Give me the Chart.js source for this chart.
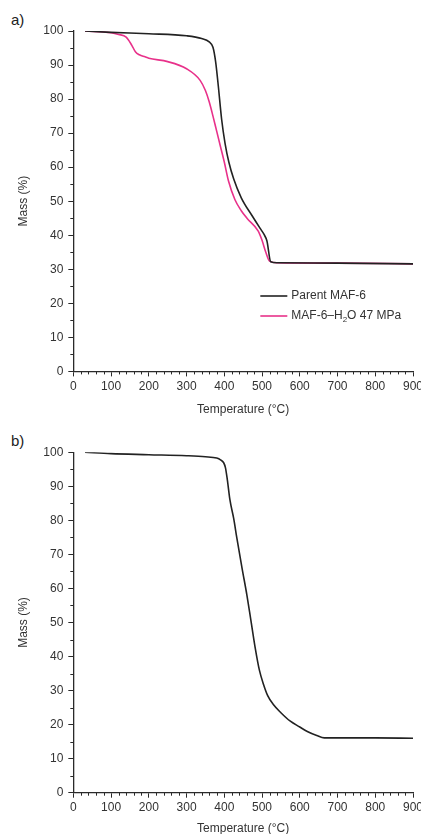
<!DOCTYPE html>
<html>
<head>
<meta charset="utf-8">
<script src="https://cdn.jsdelivr.net/npm/chart.js@4.4.1/dist/chart.umd.min.js"></script>
<style>
  html, body { margin: 0; padding: 0; background: #fff; }
  #page { position: relative; width: 421px; height: 834px; overflow: hidden; background: #fff; }
  canvas { position: absolute; left: 0; }
  .panel { position: absolute; left: 11px; font: 15px "Liberation Sans", Arial, sans-serif; color: #222; line-height: 15px; }
</style>
</head>
<body>
<div id="page">
  <div class="panel" style="top:12px">a)</div>
  <canvas id="chartA" width="440" height="417" style="top:0"></canvas>
  <div class="panel" style="top:433px">b)</div>
  <canvas id="chartB" width="440" height="425" style="top:417px"></canvas>
</div>
<script>
// panel a) - temperature (°C) and mass (%)
const parentTemp = [31, 100, 200, 300, 340, 360, 370, 377, 384, 393, 402, 412, 425, 445, 475, 495, 505, 513, 523, 540, 700, 900];
const parentMass = [100, 99.6, 99.2, 98.6, 97.8, 96.8, 95.2, 91, 84, 74, 67, 61.5, 56.5, 51, 45.5, 42, 40.3, 38.3, 32.2, 31.9, 31.8, 31.6];

const waterTemp = [31, 100, 120, 140, 155, 165, 175, 190, 200, 250, 300, 336, 350, 360, 370, 380, 390, 400, 411, 428, 445, 460, 490, 500, 510, 520, 540, 700, 900];
const waterMass = [100, 99.5, 99.0, 98.2, 95.8, 93.8, 93.0, 92.4, 92.0, 91.0, 88.9, 85.5, 82.5, 79.2, 75, 70.5, 66, 61.5, 56, 50.5, 47.2, 45, 41.2, 38.5, 35, 32.4, 31.9, 31.8, 31.6];

// panel b)
const sampleTemp = [31, 100, 200, 300, 350, 380, 390, 398, 403, 408, 415, 425, 433, 447, 460, 470, 482, 493, 504, 515, 530, 550, 575, 600, 620, 645, 665, 700, 800, 900];
const sampleMass = [100, 99.6, 99.3, 99.0, 98.7, 98.3, 97.8, 97, 95.5, 92, 86, 80.5, 75, 66, 58, 51, 42.5, 36, 31.8, 28.5, 25.9, 23.5, 21, 19.3, 18, 16.8, 16.1, 16.1, 16.1, 16.0];

const xTicks = [0, 100, 200, 300, 400, 500, 600, 700, 800, 900];
const yTicks = [0, 10, 20, 30, 40, 50, 60, 70, 80, 90, 100];

const seriesLabels = ['Parent MAF-6', 'MAF-6\u2013H\u2082O 47 MPa'];
const black = '#222222';
const magenta = '#e8318a';
const axisColor = '#2a2a2a';

Chart.defaults.font.family = '"Liberation Sans", Arial, sans-serif';
Chart.defaults.font.size = 12;
Chart.defaults.color = '#333';

function toPoints(xs, ys) {
    return xs.map((x, i) => ({x: x, y: ys[i]}));
}

function lineSet(label, xs, ys, color) {
    return {
        label: label,
        data: toPoints(xs, ys),
        borderColor: color,
        borderWidth: 1.6,
        pointRadius: 0,
        cubicInterpolationMode: 'monotone',
        fill: false
    };
}

// short minor ticks between the labelled ones
const minorTicks = {
    id: 'minorTicks',
    afterDraw(chart) {
        const {ctx, chartArea, scales} = chart;
        ctx.save();
        ctx.strokeStyle = axisColor;
        ctx.lineWidth = 1;
        ctx.beginPath();
        for (let v = 20; v < 900; v += 20) {
            if (v % 100 === 0) continue;
            const px = Math.round(scales.x.getPixelForValue(v)) + 0.5;
            ctx.moveTo(px, chartArea.bottom);
            ctx.lineTo(px, chartArea.bottom + 3);
        }
        for (let v = 5; v < 100; v += 10) {
            const py = Math.round(scales.y.getPixelForValue(v)) + 0.5;
            ctx.moveTo(chartArea.left, py);
            ctx.lineTo(chartArea.left - 3, py);
        }
        ctx.stroke();
        ctx.restore();
    }
};

// legend drawn inside the plot area (chart a only)
const insideLegend = {
    id: 'insideLegend',
    afterDatasetsDraw(chart, args, opts) {
        if (!opts.show) return;
        const {ctx, chartArea} = chart;
        const x0 = chartArea.left + opts.left;
        ctx.save();
        ctx.textBaseline = 'middle';
        chart.data.datasets.forEach((ds, i) => {
            const y = chartArea.top + opts.top + i * opts.gap;
            ctx.strokeStyle = ds.borderColor;
            ctx.lineWidth = 1.6;
            ctx.beginPath();
            ctx.moveTo(x0, y);
            ctx.lineTo(x0 + 27, y);
            ctx.stroke();
            ctx.fillStyle = '#333';
            let tx = x0 + 31;
            const parts = ds.label.split('\u2082');
            ctx.font = '12px "Liberation Sans", Arial, sans-serif';
            ctx.fillText(parts[0], tx, y);
            if (parts.length > 1) {
                tx += ctx.measureText(parts[0]).width;
                ctx.font = '8px "Liberation Sans", Arial, sans-serif';
                ctx.fillText('2', tx, y + 4);
                tx += ctx.measureText('2').width;
                ctx.font = '12px "Liberation Sans", Arial, sans-serif';
                ctx.fillText(parts[1], tx, y);
            }
        });
        ctx.restore();
    }
};

function makeOptions(pad, titleTop, legend) {
    return {
        responsive: false,
        animation: false,
        layout: {padding: pad},
        plugins: {
            legend: {display: false},
            tooltip: {enabled: false},
            insideLegend: legend
        },
        scales: {
            x: {
                type: 'linear',
                min: 0,
                max: 900,
                afterBuildTicks: scale => { scale.ticks = xTicks.map(v => ({value: v})); },
                ticks: {padding: 3, maxRotation: 0, autoSkip: false, color: '#333'},
                grid: {drawOnChartArea: false, drawTicks: true, tickLength: 5, tickColor: axisColor, tickWidth: 1},
                border: {display: true, color: axisColor, width: 1.3},
                title: {display: true, text: 'Temperature (\u00B0C)', color: '#333', padding: {top: titleTop, bottom: 0}}
            },
            y: {
                min: 0,
                max: 100,
                afterBuildTicks: scale => { scale.ticks = yTicks.map(v => ({value: v})); },
                ticks: {padding: 5, color: '#333'},
                grid: {drawOnChartArea: false, drawTicks: true, tickLength: 5, tickColor: axisColor, tickWidth: 1},
                border: {display: true, color: axisColor, width: 1.3},
                title: {display: true, text: 'Mass (%)', color: '#333', padding: {top: 4, bottom: 7.8}}
            }
        }
    };
}

new Chart(document.getElementById('chartA').getContext('2d'), {
    type: 'line',
    data: {
        datasets: [
            lineSet(seriesLabels[0], parentTemp, parentMass, black),
            lineSet(seriesLabels[1], waterTemp, waterMass, magenta)
        ]
    },
    options: makeOptions({top: 31, right: 27, bottom: 0.2, left: 12.1}, 5.6, {show: true, left: 187, top: 265, gap: 20}),
    plugins: [minorTicks, insideLegend]
});

new Chart(document.getElementById('chartB').getContext('2d'), {
    type: 'line',
    data: {
        datasets: [
            lineSet('Sample', sampleTemp, sampleMass, black)
        ]
    },
    options: makeOptions({top: 35.3, right: 27, bottom: 6.2, left: 12.1}, 3.3, {show: false}),
    plugins: [minorTicks, insideLegend]
});
</script>
</body>
</html>
